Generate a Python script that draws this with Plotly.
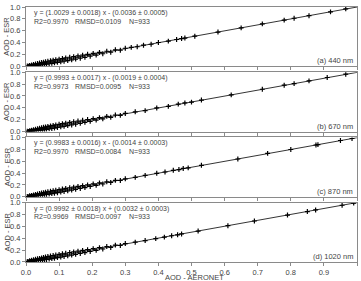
import plotly.graph_objects as go
from plotly.subplots import make_subplots

# ---- data (AOD-AERONET vs AOD-ESR) ----
x_440 = [0.004,0.008,0.011,0.014,0.017,0.020,0.023,0.026,0.029,0.032,0.035,0.038,0.041,0.044,0.047,0.050,0.053,0.056,0.059,0.062,0.066,0.070,0.074,0.078,0.082,0.086,0.090,0.095,0.100,0.105,0.110,0.115,0.120,0.126,0.132,0.138,0.144,0.150,0.157,0.164,0.171,0.178,0.186,0.194,0.203,0.212,0.222,0.232,0.244,0.256,0.270,0.285,0.300,
         0.318,0.336,0.355,0.378,0.400,0.430,0.455,0.470,0.480,0.510,0.580,0.650,0.714,0.780,0.810,0.855,0.920,0.966]
y_440 = [0.004,0.000,0.015,0.002,0.023,0.006,0.031,0.010,0.039,0.014,0.047,0.018,0.055,0.022,0.063,0.026,0.070,0.031,0.077,0.036,0.085,0.043,0.094,0.050,0.103,0.057,0.111,0.066,0.121,0.076,0.131,0.086,0.141,0.097,0.153,0.109,0.164,0.122,0.176,0.137,0.189,0.152,0.202,0.170,0.217,0.190,0.234,0.212,0.254,0.238,0.278,0.271,0.304,
         0.320,0.330,0.356,0.372,0.401,0.425,0.452,0.468,0.476,0.508,0.578,0.648,0.716,0.779,0.810,0.853,0.918,0.968]

x_670 = [0.004,0.008,0.011,0.014,0.017,0.020,0.023,0.026,0.029,0.032,0.035,0.038,0.041,0.044,0.047,0.050,0.053,0.056,0.059,0.062,0.066,0.070,0.074,0.078,0.082,0.086,0.090,0.095,0.100,0.105,0.110,0.115,0.120,0.126,0.132,0.138,0.144,0.150,0.157,0.164,0.171,0.178,0.186,0.194,0.203,0.212,0.222,0.232,0.244,0.256,0.270,0.285,0.300,
         0.330,0.360,0.395,0.430,0.460,0.480,0.500,0.530,0.620,0.714,0.780,0.810,0.855,0.910,0.966]
y_670 = [0.005,0.002,0.016,0.004,0.024,0.008,0.032,0.011,0.040,0.015,0.048,0.020,0.056,0.024,0.064,0.028,0.071,0.033,0.078,0.038,0.086,0.045,0.095,0.052,0.104,0.059,0.112,0.068,0.122,0.078,0.132,0.088,0.142,0.099,0.154,0.111,0.165,0.124,0.177,0.139,0.190,0.154,0.203,0.172,0.218,0.192,0.235,0.214,0.255,0.240,0.279,0.273,0.305,
         0.333,0.352,0.398,0.424,0.462,0.482,0.496,0.531,0.618,0.713,0.781,0.808,0.854,0.911,0.967]

x_870 = [0.004,0.008,0.011,0.014,0.017,0.020,0.023,0.026,0.029,0.032,0.035,0.038,0.041,0.044,0.047,0.050,0.053,0.056,0.059,0.062,0.066,0.070,0.074,0.078,0.082,0.086,0.090,0.095,0.100,0.105,0.110,0.115,0.120,0.126,0.132,0.138,0.144,0.150,0.157,0.164,0.171,0.178,0.186,0.194,0.203,0.212,0.222,0.232,0.244,0.256,0.270,0.285,0.300,
         0.330,0.360,0.395,0.420,0.445,0.462,0.475,0.490,0.530,0.640,0.730,0.800,0.876,0.882,0.950,0.985]
y_870 = [0.005,0.001,0.016,0.004,0.024,0.008,0.032,0.012,0.040,0.016,0.048,0.021,0.055,0.025,0.063,0.029,0.070,0.034,0.077,0.039,0.085,0.046,0.093,0.053,0.102,0.060,0.110,0.069,0.120,0.079,0.130,0.089,0.140,0.100,0.152,0.112,0.163,0.125,0.175,0.140,0.188,0.155,0.201,0.173,0.216,0.193,0.233,0.215,0.253,0.241,0.277,0.274,0.303,
         0.327,0.361,0.396,0.418,0.446,0.459,0.478,0.487,0.531,0.637,0.731,0.797,0.873,0.880,0.949,0.983]

x_1020 = [0.004,0.008,0.011,0.014,0.017,0.020,0.023,0.026,0.029,0.032,0.035,0.038,0.041,0.044,0.047,0.050,0.053,0.056,0.059,0.062,0.066,0.070,0.074,0.078,0.082,0.086,0.090,0.095,0.100,0.105,0.110,0.115,0.120,0.126,0.132,0.138,0.144,0.150,0.157,0.164,0.171,0.178,0.186,0.194,0.203,0.212,0.222,0.232,0.244,0.256,0.270,0.285,0.300,
          0.330,0.360,0.392,0.418,0.440,0.458,0.470,0.520,0.610,0.690,0.790,0.850,0.875,0.955,0.990]
y_1020 = [0.011,0.006,0.022,0.009,0.030,0.013,0.038,0.017,0.046,0.021,0.054,0.025,0.062,0.029,0.070,0.033,0.077,0.038,0.084,0.043,0.092,0.050,0.101,0.057,0.110,0.064,0.118,0.073,0.128,0.083,0.138,0.093,0.148,0.104,0.160,0.116,0.171,0.129,0.183,0.144,0.196,0.159,0.209,0.177,0.224,0.197,0.241,0.219,0.261,0.245,0.285,0.278,0.311,
          0.334,0.362,0.395,0.419,0.443,0.459,0.473,0.522,0.612,0.691,0.792,0.851,0.878,0.957,0.992]

fit_slope = [1.0029, 0.9993, 0.9983, 0.9992]
fit_intercept = [-0.0036, -0.0019, -0.0014, 0.0032]
eq_labels = ["y = (1.0029 ± 0.0018) x - (0.0036 ± 0.0005)",
             "y = (0.9993 ± 0.0017) x - (0.0019 ± 0.0004)",
             "y = (0.9983 ± 0.0016) x - (0.0014 ± 0.0003)",
             "y = (0.9992 ± 0.0018) x + (0.0032 ± 0.0003)"]
r2_labels = ["R2=0.9970", "R2=0.9973", "R2=0.9970", "R2=0.9969"]
rmsd_labels = ["RMSD=0.0109", "RMSD=0.0095", "RMSD=0.0084", "RMSD=0.0097"]
n_labels = ["N=933", "N=933", "N=933", "N=933"]
panel_labels = ["(a) 440 nm", "(b) 670 nm", "(c) 870 nm", "(d) 1020 nm"]
x_ticks = [0.0, 0.1, 0.2, 0.3, 0.4, 0.5, 0.6, 0.7, 0.8, 0.9, 1.0]
y_ticks = [0.0, 0.2, 0.4, 0.6, 0.8, 1.0]

xs = [x_440, x_670, x_870, x_1020]
ys = [y_440, y_670, y_870, y_1020]

W, H = 361, 281
ML, MR, MT, MB = 26, 3, 4, 19
ph = H - MT - MB
gap = 6
fig = make_subplots(rows=4, cols=1, vertical_spacing=gap / ph)

FONT = "Liberation Sans, Arial, sans-serif"
AX = "#8a8a8a"
TXT = "#444444"

for i in range(4):
    r = i + 1
    fig.add_trace(go.Scatter(
        x=xs[i], y=ys[i], mode="markers",
        marker=dict(symbol="cross-thin", size=3.5, color="black",
                    line=dict(color="black", width=1.2)),
        showlegend=False, hoverinfo="skip"), row=r, col=1)
    fig.add_trace(go.Scatter(
        x=[0, 1], y=[fit_intercept[i], fit_slope[i] + fit_intercept[i]],
        mode="lines", line=dict(color="black", width=0.8),
        showlegend=False, hoverinfo="skip"), row=r, col=1)
    xa = "x" if r == 1 else f"x{r}"
    ya = "y" if r == 1 else f"y{r}"
    fs = 7
    fig.add_annotation(x=0.018, y=0.90, xref=xa, yref=ya, text=eq_labels[i],
                       showarrow=False, xanchor="left", yanchor="middle",
                       font=dict(family=FONT, size=fs, color=TXT))
    fig.add_annotation(x=0.018, y=0.76, xref=xa, yref=ya, text=r2_labels[i],
                       showarrow=False, xanchor="left", yanchor="middle",
                       font=dict(family=FONT, size=fs, color=TXT))
    fig.add_annotation(x=0.142, y=0.76, xref=xa, yref=ya, text=rmsd_labels[i],
                       showarrow=False, xanchor="left", yanchor="middle",
                       font=dict(family=FONT, size=fs, color=TXT))
    fig.add_annotation(x=0.305, y=0.76, xref=xa, yref=ya, text=n_labels[i],
                       showarrow=False, xanchor="left", yanchor="middle",
                       font=dict(family=FONT, size=fs, color=TXT))
    fig.add_annotation(x=0.995, y=0.09, xref=xa, yref=ya, text=panel_labels[i],
                       showarrow=False, xanchor="right", yanchor="middle",
                       font=dict(family=FONT, size=7.5, color=TXT))
    fig.add_annotation(x=-19 / (W - ML - MR), y=0.5, xref=xa + " domain",
                       yref=ya + " domain", text="AOD - ESR", textangle=-90,
                       showarrow=False, xanchor="center", yanchor="middle",
                       font=dict(family=FONT, size=7.5, color=TXT))
    fig.update_xaxes(range=[0, 1], tickvals=x_ticks,
                     ticktext=[f"{v:.1f}" for v in x_ticks],
                     showticklabels=(r == 4), ticks="outside", ticklen=3,
                     tickcolor=AX, showline=True, linecolor=AX, linewidth=1,
                     mirror=True, showgrid=False, zeroline=False,
                     tickfont=dict(family=FONT, size=7.5, color=TXT),
                     row=r, col=1)
    fig.update_yaxes(range=[0, 1], tickvals=y_ticks,
                     ticktext=[f"{v:.1f}" for v in y_ticks],
                     ticks="outside", ticklen=3, tickcolor=AX,
                     showline=True, linecolor=AX, linewidth=1, mirror=True,
                     showgrid=False, zeroline=False,
                     tickfont=dict(family=FONT, size=7.5, color=TXT),
                     row=r, col=1)

fig.add_annotation(x=0.51, y=-16 / ph, xref="paper", yref="paper",
                   text="AOD - AERONET", showarrow=False,
                   xanchor="center", yanchor="middle",
                   font=dict(family=FONT, size=7.5, color=TXT))

fig.update_layout(width=W, height=H,
                  margin=dict(l=ML, r=MR, t=MT, b=MB),
                  paper_bgcolor="white", plot_bgcolor="white",
                  showlegend=False)
fig.write_html("out.html")
